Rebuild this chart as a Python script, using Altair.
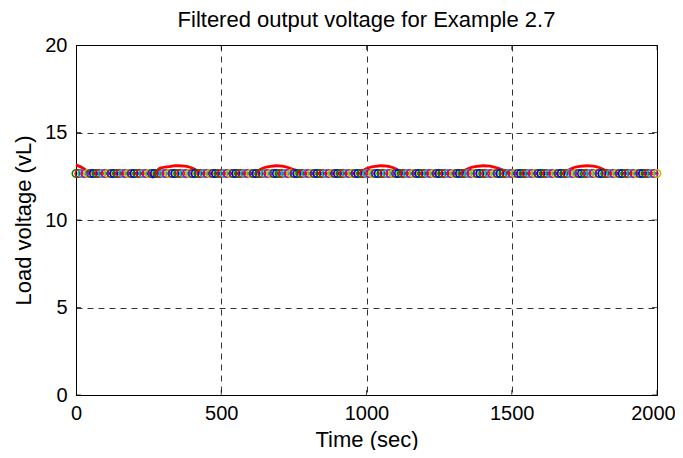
import altair as alt
import pandas as pd

# Red filtered-voltage trace (time in sec, voltage in V)
red_t = [0, 10, 20, 30, 40, 50, 62,
         255, 260, 265, 272, 285, 300, 320, 340, 356, 375, 395, 415, 432,
         615, 630, 650, 670, 690, 710, 730, 755, 780,
         975, 990, 1010, 1030, 1050, 1070, 1090, 1110, 1128,
         1325, 1340, 1360, 1380, 1403, 1425, 1445, 1470, 1496,
         1680, 1695, 1715, 1735, 1760, 1780, 1800, 1820, 1842, 2000]
red_v = [13.15, 13.08, 13.0, 12.9, 12.8, 12.72, 12.66,
         12.66, 12.5, 12.45, 12.62, 12.92, 13.0, 13.05, 13.1, 13.1, 13.08, 13.0, 12.85, 12.66,
         12.66, 12.85, 13.0, 13.07, 13.1, 13.08, 13.0, 12.85, 12.66,
         12.66, 12.85, 13.0, 13.07, 13.1, 13.08, 13.0, 12.85, 12.66,
         12.66, 12.85, 13.0, 13.07, 13.1, 13.08, 13.0, 12.85, 12.66,
         12.66, 12.85, 13.0, 13.07, 13.1, 13.08, 13.0, 12.85, 12.66, 12.66]

# Circle markers (sampled load voltage)
marker_t = list(range(0, 2001, 10))
marker_level = 12.66
marker_palette = ["#0000ff", "#008000", "#ff0000", "#00bfbf",
                  "#bf00bf", "#bfbf00", "#404040"]

x_ticks = [0, 500, 1000, 1500, 2000]
y_ticks = [0, 5, 10, 15, 20]

red_df = pd.DataFrame({"t": red_t, "v": red_v})
mk_df = pd.DataFrame({
    "t": marker_t,
    "v": [marker_level] * len(marker_t),
    "c": [str((i + 1) % 7) for i in range(len(marker_t))],
})
xt_df = pd.DataFrame({"t": x_ticks})
yt_df = pd.DataFrame({"v": y_ticks})

xs = alt.Scale(domain=[0, 2000], nice=False, zero=False)
ys = alt.Scale(domain=[0, 20], nice=False, zero=False)

FONT = "Liberation Sans"
TICK_FS = 20
LABEL_FS = 22

x_axis = alt.Axis(values=x_ticks, format="d", title="Time (sec)", grid=True,
                  gridColor="black", gridDash=[6, 5], gridWidth=0.8, gridOpacity=1,
                  tickSize=0, labelPadding=8, labelFontSize=TICK_FS, labelFont=FONT,
                  labelColor="black", titleFontSize=LABEL_FS, titleFont=FONT,
                  titleFontWeight="normal", titleColor="black", titlePadding=6,
                  domainColor="black", labelFlush=False,
                  labelOffset={"condition": {"test": "datum.value == 2000", "value": -4},
                               "value": 0})
y_axis = alt.Axis(values=y_ticks, format="d", title="Load voltage (vL)", grid=True,
                  gridColor="black", gridDash=[6, 5], gridWidth=0.8, gridOpacity=1,
                  tickSize=0, labelPadding=9, labelFontSize=TICK_FS, labelFont=FONT,
                  labelColor="black", titleFontSize=LABEL_FS, titleFont=FONT,
                  titleFontWeight="normal", titleColor="black", titlePadding=9,
                  domainColor="black", labelFlush=False)

base_axes = alt.Chart(red_df).mark_line(strokeWidth=0, opacity=0).encode(
    x=alt.X("t:Q", scale=xs, axis=x_axis),
    y=alt.Y("v:Q", scale=ys, axis=y_axis),
)

# inward ticks on all four sides
xt_bottom = alt.Chart(xt_df).mark_tick(orient="vertical", size=10, thickness=1,
                                       color="black", clip=True).encode(
    x=alt.X("t:Q", scale=xs), y=alt.datum(0, scale=ys))
xt_top = alt.Chart(xt_df).mark_tick(orient="vertical", size=10, thickness=1,
                                    color="black", clip=True).encode(
    x=alt.X("t:Q", scale=xs), y=alt.datum(20, scale=ys))
yt_left = alt.Chart(yt_df).mark_tick(orient="horizontal", size=10, thickness=1,
                                     color="black", clip=True).encode(
    y=alt.Y("v:Q", scale=ys), x=alt.datum(0, scale=xs))
yt_right = alt.Chart(yt_df).mark_tick(orient="horizontal", size=10, thickness=1,
                                      color="black", clip=True).encode(
    y=alt.Y("v:Q", scale=ys), x=alt.datum(2000, scale=xs))

red_line = alt.Chart(red_df).mark_line(color="red", strokeWidth=2.8,
                                       interpolate="monotone").encode(
    x=alt.X("t:Q", scale=xs), y=alt.Y("v:Q", scale=ys))

markers = alt.Chart(mk_df).mark_point(shape="circle", filled=False, size=55,
                                      strokeWidth=1.6, opacity=1).encode(
    x=alt.X("t:Q", scale=xs), y=alt.Y("v:Q", scale=ys),
    color=alt.Color("c:N", scale=alt.Scale(domain=[str(i) for i in range(7)],
                                           range=marker_palette), legend=None),
)

chart = alt.layer(base_axes, red_line, markers, xt_bottom, xt_top, yt_left, yt_right).properties(
    width=581, height=350,
    title=alt.TitleParams("Filtered output voltage for Example 2.7", fontSize=22,
                          font=FONT, fontWeight="normal", color="black", offset=3,
                          frame="group", anchor="middle"),
    autosize=alt.AutoSizeParams(type="none"),
    padding={"left": 68, "top": 37, "right": 18, "bottom": 55},
    background="white",
).configure_view(stroke="black", strokeWidth=1)

chart.save("out.html", embed_options={"renderer": "svg", "actions": False})
